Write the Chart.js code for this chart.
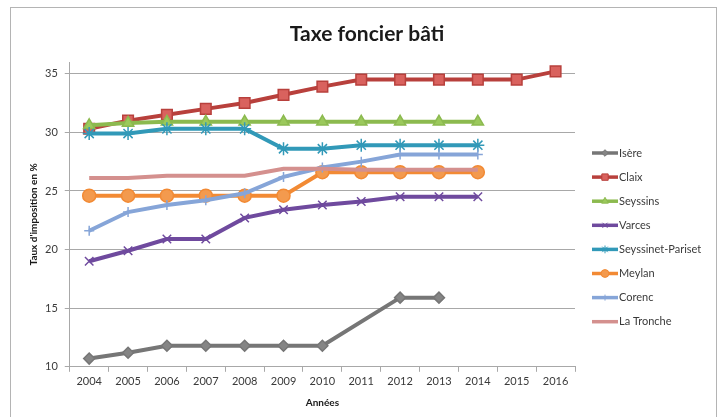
<!DOCTYPE html>
<html lang="fr">
<head>
<meta charset="utf-8">
<script src="https://cdn.jsdelivr.net/npm/chart.js@4/dist/chart.umd.min.js"></script>
<style>
    html, body { margin: 0; padding: 0; background: #ffffff; width: 720px; height: 417px; overflow: hidden; }
    #frame {
        position: absolute; left: 10px; top: 7px;
        width: 705px; height: 411px;
        border: 1px solid #b4b4b4; background: #ffffff;
    }
</style>
</head>
<body>
<div id="frame"><canvas id="taxeChart"></canvas></div>
<script>
// -----------------------------
// Data
// -----------------------------
const years = ['2004', '2005', '2006', '2007', '2008', '2009', '2010', '2011', '2012', '2013', '2014', '2015', '2016'];
const isere = [10.7, 11.2, 11.8, 11.8, 11.8, 11.8, 11.8, null, 15.9, 15.9];
const claix = [30.3, 31.0, 31.5, 32.0, 32.5, 33.2, 33.9, 34.5, 34.5, 34.5, 34.5, 34.5, 35.2];
const seyssins = [30.6, 30.8, 30.9, 30.9, 30.9, 30.9, 30.9, 30.9, 30.9, 30.9, 30.9];
const varces = [19.0, 19.9, 20.9, 20.9, 22.7, 23.4, 23.8, 24.1, 24.5, 24.5, 24.5];
const seyssinetPariset = [29.9, 29.9, 30.3, 30.3, 30.3, 28.6, 28.6, 28.9, 28.9, 28.9, 28.9];
const meylan = [24.6, 24.6, 24.6, 24.6, 24.6, 24.6, 26.6, 26.6, 26.6, 26.6, 26.6];
const corenc = [21.6, 23.2, 23.8, 24.2, 24.8, 26.2, 27.0, 27.5, 28.1, 28.1, 28.1];
const laTronche = [26.1, 26.1, 26.3, 26.3, 26.3, 26.9, 26.9, 26.8, 26.8, 26.8, 26.8];
const yTicks = [10, 15, 20, 25, 30, 35];
const chartTitle = 'Taxe foncier bâti';

const fontFamily = 'Lato, "Open Sans", sans-serif';
const textColor = '#3a3a3a';
const gridColor = '#a8a8a8';

// helper: one line series in the Excel look
function series(label, data, color, markerFill, pointStyle, radius, order, extra) {
    return Object.assign({
        label: label,
        data: data,
        borderColor: color,
        backgroundColor: color,
        borderWidth: 4,
        pointStyle: pointStyle,
        pointRadius: radius,
        pointHoverRadius: radius,
        pointBackgroundColor: markerFill,
        pointBorderColor: color,
        pointBorderWidth: 1.5,
        tension: 0,
        order: order
    }, extra || {});
}

const datasets = [
    series('Isère', isere, '#767676', '#858585', 'rectRot', 5.5, 8, {spanGaps: true}),
    series('Claix', claix, '#b8403c', '#d9625e', 'rect', 7.5, 7),
    series('Seyssins', seyssins, '#8cba4f', '#9bc95c', 'triangle', 6.5, 6),
    series('Varces', varces, '#6f4a9e', '#6f4a9e', 'crossRot', 6, 5),
    series('Seyssinet-Pariset', seyssinetPariset, '#3199b8', '#3199b8', 'star', 6.5, 4),
    series('Meylan', meylan, '#f28a34', '#f39a4e', 'circle', 6.5, 3),
    series('Corenc', corenc, '#86a5d8', '#86a5d8', 'cross', 5, 2),
    series('La Tronche', laTronche, '#d4908e', '#d4908e', 'dash', 0, 1)
];

// -----------------------------
// Title (centred on the whole frame) and legend on the right
// -----------------------------
const excelDecor = {
    id: 'excelDecor',
    afterDraw(chart) {
        const ctx = chart.ctx;
        ctx.save();
        // title
        ctx.fillStyle = '#1a1a1a';
        ctx.font = 'bold 21px ' + fontFamily;
        ctx.textAlign = 'center';
        ctx.textBaseline = 'middle';
        ctx.fillText(chartTitle, 356, 26);

        // legend
        const x0 = chart.chartArea.right + 17;
        const lineLen = 26;
        const y0 = 145;
        const step = 24.1;
        chart.data.datasets.forEach((ds, i) => {
            const y = y0 + i * step;
            ctx.strokeStyle = ds.borderColor;
            ctx.lineWidth = 3.5;
            ctx.beginPath();
            ctx.moveTo(x0, y);
            ctx.lineTo(x0 + lineLen, y);
            ctx.stroke();
            if (ds.pointRadius > 0) {
                ctx.fillStyle = ds.pointBackgroundColor;
                ctx.strokeStyle = ds.pointBorderColor;
                ctx.lineWidth = 1;
                Chart.helpers.drawPoint(ctx, {
                    pointStyle: ds.pointStyle,
                    radius: ds.pointRadius * 0.6,
                    rotation: 0,
                    borderWidth: 1
                }, x0 + lineLen / 2, y);
            }
            ctx.fillStyle = textColor;
            ctx.font = '11px ' + fontFamily;
            ctx.textAlign = 'left';
            ctx.textBaseline = 'middle';
            ctx.fillText(ds.label, x0 + lineLen + 1, y);
        });
        ctx.restore();
    }
};

new Chart(document.getElementById('taxeChart'), {
    type: 'line',
    data: {labels: years, datasets: datasets},
    plugins: [excelDecor],
    options: {
        responsive: true,
        maintainAspectRatio: false,
        animation: false,
        layout: {padding: {left: 17, right: 141, top: 54, bottom: 6}},
        plugins: {
            legend: {display: false},
            tooltip: {enabled: false},
            title: {display: false}
        },
        scales: {
            x: {
                offset: true,
                grid: {offset: true, drawOnChartArea: false, tickLength: 5, color: gridColor},
                border: {color: gridColor, width: 1},
                ticks: {color: textColor, font: {family: fontFamily, size: 11}, padding: 3, maxRotation: 0, autoSkip: false},
                title: {
                    display: true, text: 'Années', color: '#1a1a1a',
                    font: {family: fontFamily, size: 10, weight: 'bold'},
                    padding: {top: 6, bottom: 4}
                }
            },
            y: {
                min: 10,
                max: 36,
                afterBuildTicks: axis => {
                    axis.ticks = yTicks.map(v => ({value: v}));
                },
                grid: {color: gridColor, tickLength: 5},
                border: {color: gridColor, width: 1},
                ticks: {color: textColor, font: {family: fontFamily, size: 11}, padding: 7},
                title: {
                    display: true, text: "Taux d'imposition en %", color: '#1a1a1a',
                    font: {family: fontFamily, size: 10, weight: 'bold'},
                    padding: {top: 0, bottom: -2}
                }
            }
        }
    }
});
</script>
</body>
</html>
